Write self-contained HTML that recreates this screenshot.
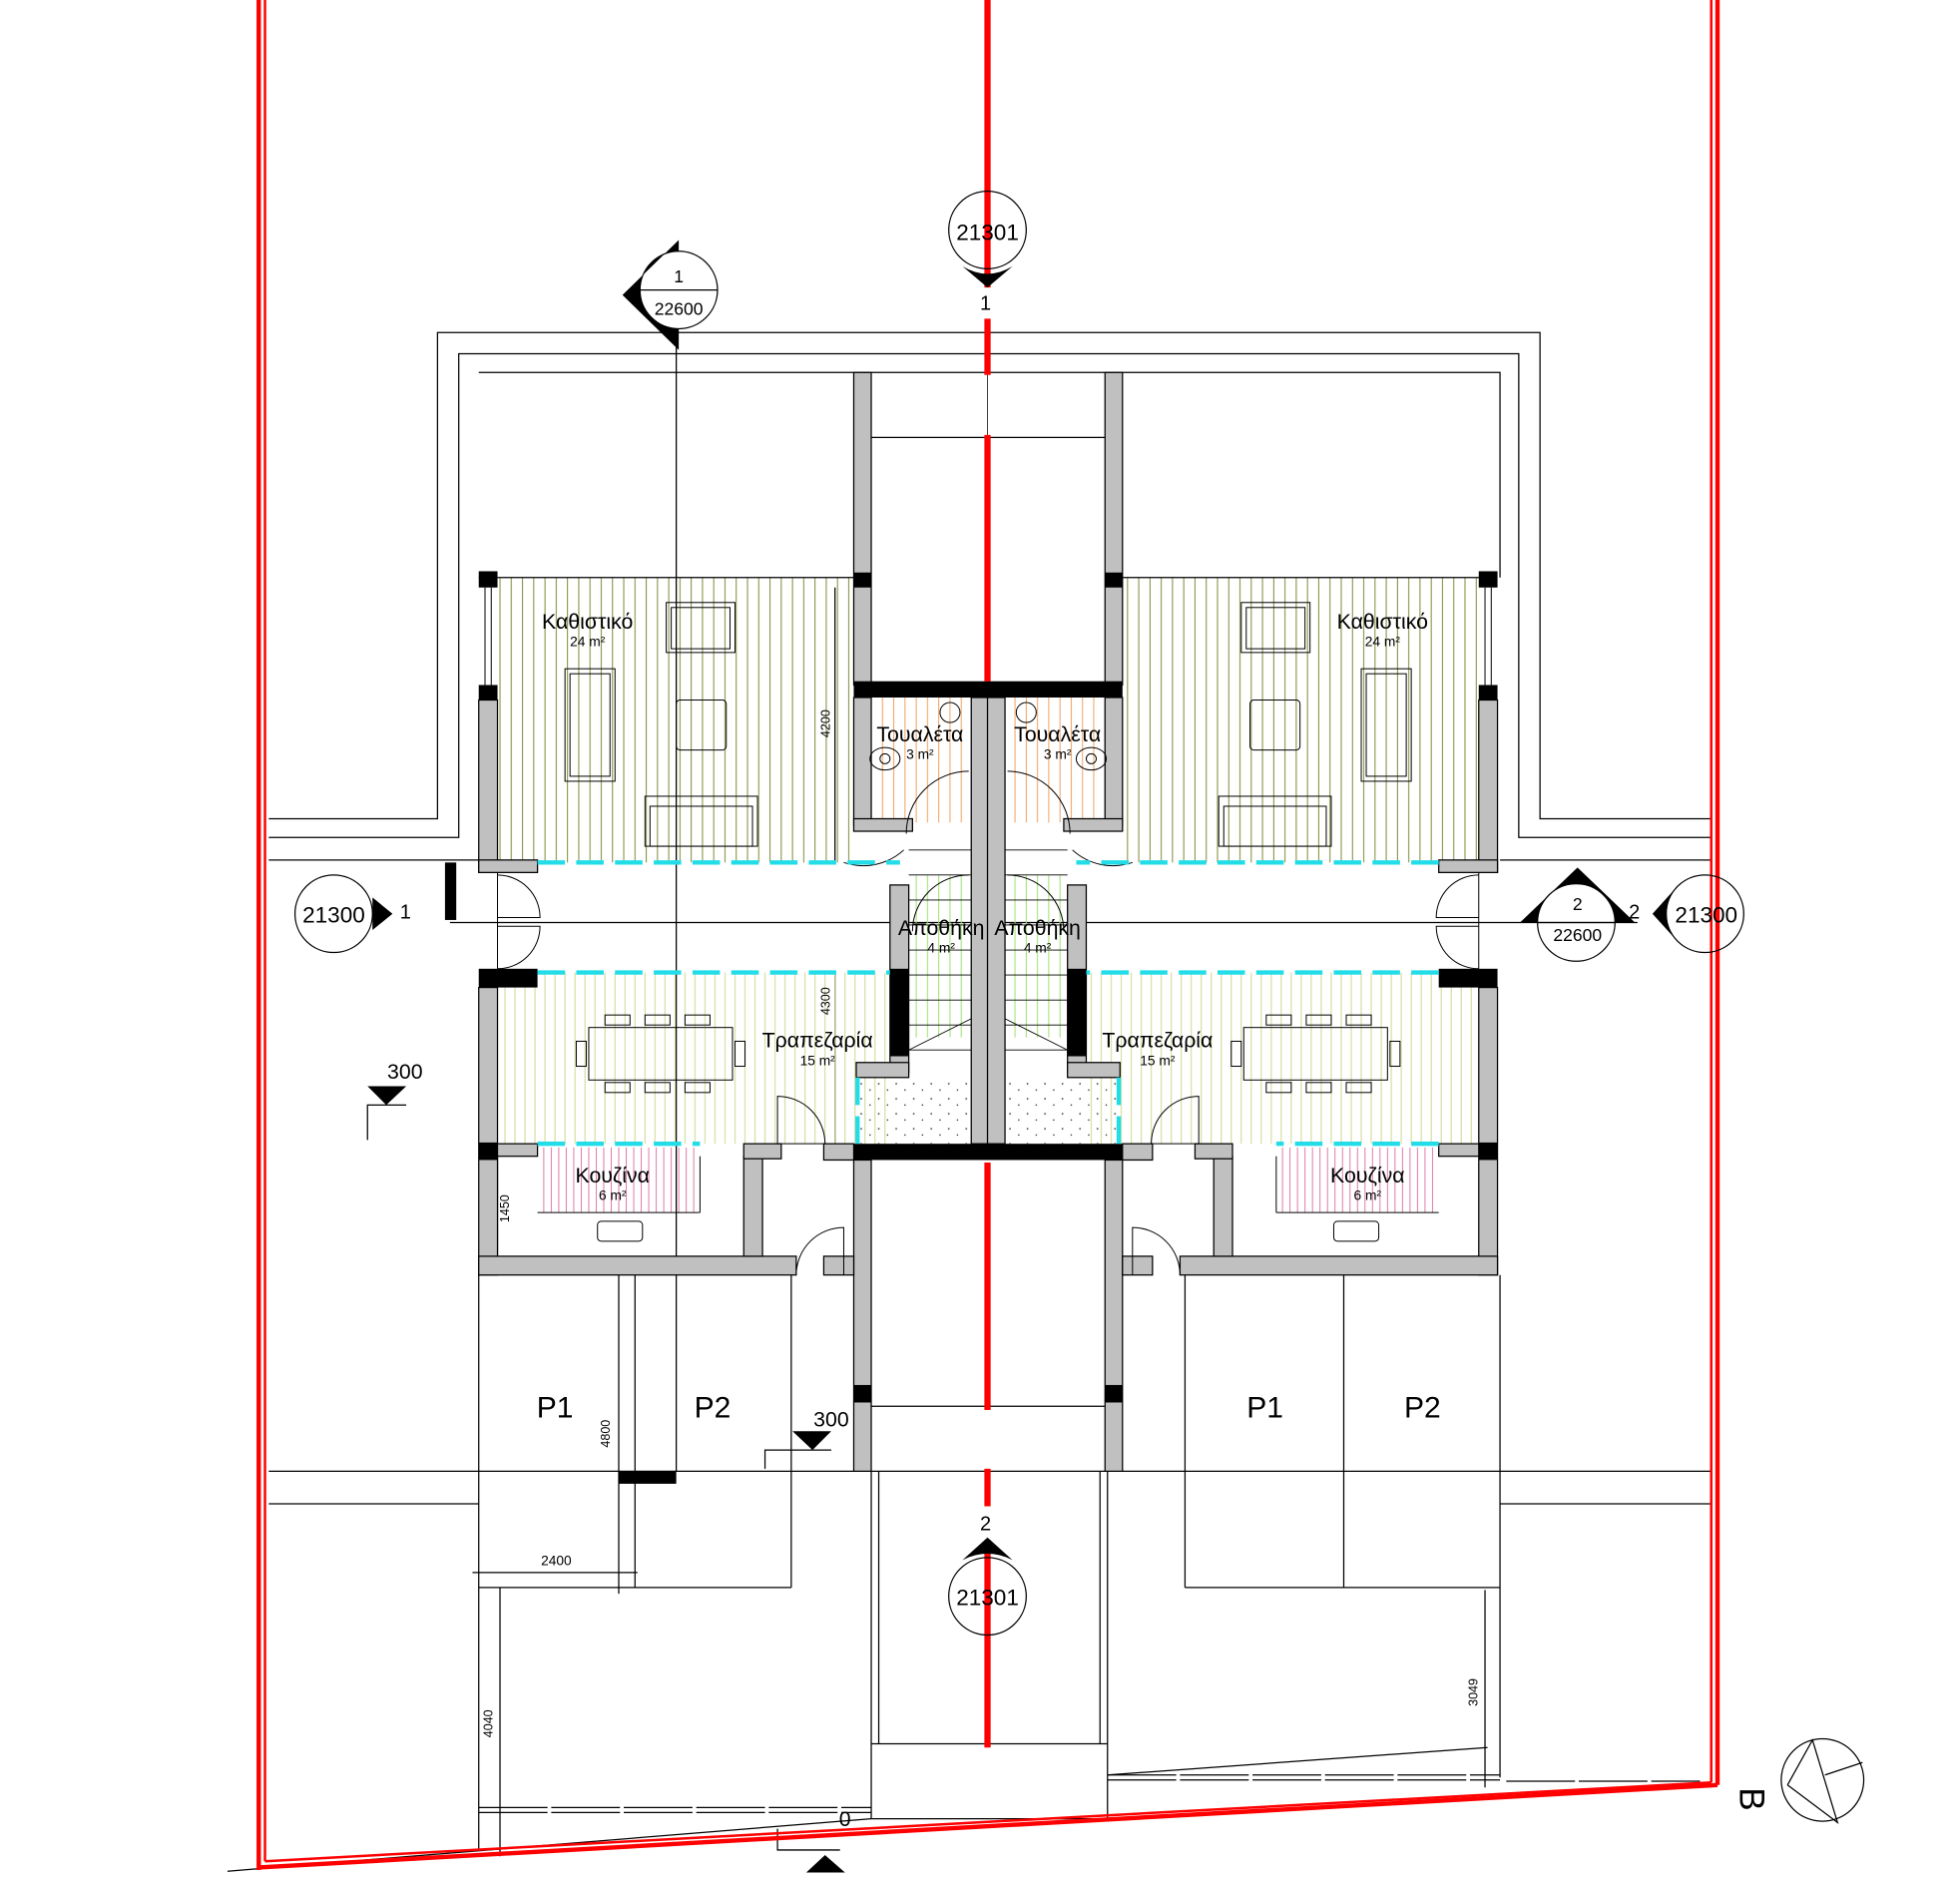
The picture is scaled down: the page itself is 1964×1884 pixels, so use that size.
<!DOCTYPE html>
<html><head><meta charset="utf-8"><style>
html,body{margin:0;padding:0;background:#fff;}
svg{display:block;}
text{font-family:"Liberation Sans",sans-serif;fill:#000;}
</style></head><body>
<svg width="1964" height="1884" viewBox="0 0 1568 1504" preserveAspectRatio="none" xmlns="http://www.w3.org/2000/svg">
<defs>
<pattern id="liv" width="9" height="10" patternUnits="userSpaceOnUse"><line x1="4" y1="0" x2="4" y2="10" stroke="#7d8a35" stroke-width="0.8"/></pattern>
<pattern id="din" width="8" height="10" patternUnits="userSpaceOnUse"><line x1="4" y1="0" x2="4" y2="10" stroke="#d4dc98" stroke-width="0.9"/></pattern>
<pattern id="kit" width="6" height="10" patternUnits="userSpaceOnUse"><line x1="3" y1="0" x2="3" y2="10" stroke="#e07aa8" stroke-width="0.8"/></pattern>
<pattern id="wc" width="9" height="10" patternUnits="userSpaceOnUse"><line x1="4" y1="0" x2="4" y2="10" stroke="#f0a060" stroke-width="0.8"/></pattern>
<pattern id="st" width="9" height="10" patternUnits="userSpaceOnUse"><line x1="4" y1="0" x2="4" y2="10" stroke="#9ee070" stroke-width="0.8"/></pattern>
<pattern id="dot" width="14" height="12" patternUnits="userSpaceOnUse"><circle cx="3" cy="3" r="0.7" fill="#333"/><circle cx="10" cy="8" r="0.6" fill="#333"/></pattern>
</defs>
<rect width="1568" height="1504" fill="#fff"/>

<g fill="none" stroke="#000" stroke-width="1">
<polyline points="215,655 350,655 350,266 1232,266 1232,655 1368,655"/>
<polyline points="215,670 367,670 367,283 1215,283 1215,670 1368,670"/>
<polyline points="383,298 1200,298 1200,462"/>
<line x1="215" y1="688" x2="383" y2="688"/><line x1="1200" y1="688" x2="1368" y2="688"/>
<line x1="215" y1="1177" x2="1368" y2="1177"/>
<line x1="215" y1="1203" x2="383" y2="1203"/><line x1="1200" y1="1203" x2="1368" y2="1203"/>
<line x1="697" y1="350" x2="886" y2="350"/>
<line x1="697" y1="1125" x2="886" y2="1125"/>
<line x1="541" y1="266" x2="541" y2="1177"/>
<line x1="360" y1="738" x2="1310" y2="738"/>
<line x1="383" y1="1020" x2="383" y2="1480"/>
<line x1="508" y1="1020" x2="508" y2="1270"/><line x1="633" y1="1020" x2="633" y2="1270"/>
<line x1="383" y1="1270" x2="633" y2="1270"/>
<line x1="948" y1="1020" x2="948" y2="1270"/><line x1="1075" y1="1020" x2="1075" y2="1270"/>
<line x1="948" y1="1270" x2="1200" y2="1270"/><line x1="1200" y1="1020" x2="1200" y2="1422"/>
<line x1="697" y1="1177" x2="697" y2="1455"/><line x1="886" y1="1177" x2="886" y2="1455"/>
<line x1="703" y1="1177" x2="703" y2="1395"/><line x1="880" y1="1177" x2="880" y2="1395"/>
<line x1="697" y1="1395" x2="886" y2="1395"/>
<line x1="697" y1="1455" x2="886" y2="1455"/>
<line x1="495" y1="1020" x2="495" y2="1275"/><line x1="378" y1="1258" x2="510" y2="1258"/>
<line x1="400" y1="1270" x2="400" y2="1485"/>
<line x1="1188" y1="1272" x2="1188" y2="1430"/>
<line x1="398" y1="925" x2="398" y2="1005"/>
<line x1="668" y1="470" x2="668" y2="690"/>
<line x1="668" y1="778" x2="668" y2="915"/>
<polyline points="612,1175 612,1160 665,1160"/>
<polyline points="294,912 294,884 325,884"/>
<polyline points="622,1463 622,1480 672,1480"/>
<line x1="182" y1="1497" x2="697" y2="1455"/>
<line x1="886" y1="1420" x2="1190" y2="1398"/>
</g>
<g fill="none" stroke="#000" stroke-width="1" stroke-dasharray="55,3">
<line x1="383" y1="1446" x2="697" y2="1446"/><line x1="383" y1="1450" x2="697" y2="1450"/>
<line x1="886" y1="1420" x2="1200" y2="1420"/><line x1="886" y1="1424" x2="1200" y2="1424"/>
<line x1="1205" y1="1425" x2="1360" y2="1425"/>
</g>
<rect x="495" y="1177" width="46" height="10" fill="#000"/>
<rect x="356" y="690" width="9" height="46" fill="#000"/>

<g id="unit">
<rect x="398" y="462" width="285" height="228" fill="url(#liv)"/>
<line x1="383" y1="462" x2="683" y2="462" stroke="#000"/>
<rect x="398" y="778" width="317" height="137" fill="url(#din)"/>
<rect x="430" y="918" width="130" height="52" fill="url(#kit)"/>
<rect x="697" y="558" width="80" height="100" fill="url(#wc)"/>
<rect x="727" y="700" width="50" height="130" fill="url(#st)"/>
<rect x="685" y="862" width="92" height="53" fill="url(#dot)"/>
<g stroke="#000" stroke-width="0.7" fill="none">
<line x1="727" y1="720" x2="777" y2="720"/><line x1="727" y1="740" x2="777" y2="740"/><line x1="727" y1="760" x2="777" y2="760"/><line x1="727" y1="780" x2="777" y2="780"/><line x1="727" y1="800" x2="777" y2="800"/><line x1="727" y1="820" x2="777" y2="820"/><line x1="727" y1="840" x2="777" y2="840"/>
<line x1="727" y1="680" x2="777" y2="680"/><line x1="727" y1="700" x2="777" y2="700"/>
<polyline points="727,840 777,815"/>
</g>
<g fill="#c0c0c0" stroke="#000" stroke-width="1">
<rect x="683" y="298" width="14" height="250"/>
<rect x="383" y="560" width="15" height="138"/>
<rect x="383" y="688" width="47" height="10"/>
<rect x="383" y="790" width="15" height="230"/>
<rect x="383" y="1005" width="254" height="15"/>
<rect x="595" y="925" width="15" height="80"/>
<rect x="595" y="915" width="30" height="12"/>
<rect x="398" y="915" width="32" height="10"/>
<rect x="659" y="915" width="24" height="13"/>
<rect x="683" y="928" width="14" height="249"/>
<rect x="683" y="558" width="14" height="102"/>
<rect x="683" y="655" width="47" height="10"/>
<rect x="712" y="708" width="15" height="150"/>
<rect x="685" y="850" width="42" height="12"/>
<rect x="777" y="558" width="14" height="357"/>
<rect x="659" y="1005" width="24" height="15"/>
</g>
<g fill="#000">
<rect x="683" y="458" width="14" height="12"/>
<rect x="383" y="457" width="15" height="13"/>
<rect x="383" y="548" width="15" height="12"/>
<rect x="683" y="545" width="108" height="13"/>
<rect x="383" y="775" width="47" height="15"/>
<rect x="712" y="775" width="15" height="70"/>
<rect x="383" y="914" width="15" height="14"/>
<rect x="683" y="915" width="108" height="13"/>
<rect x="683" y="1108" width="14" height="14"/>
</g>
<g stroke="#000" stroke-width="0.8" fill="none">
<line x1="388" y1="470" x2="388" y2="548"/><line x1="393" y1="470" x2="393" y2="548"/>
<line x1="398" y1="698" x2="398" y2="775"/>
<path d="M398,700 A34,34 0 0 1 432,734 L398,734"/>
<path d="M398,775 A34,34 0 0 0 432,741 L398,741"/>
<path d="M622,877 A38,38 0 0 1 660,915 L622,915 Z"/>
<path d="M637,1020 A38,38 0 0 1 675,982 L675,1020"/>
<path d="M775,617 A50,50 0 0 0 725,667"/>
<path d="M675,690 A48,48 0 0 0 723,680"/>
<path d="M775,700 A45,45 0 0 0 730,745"/>
<rect x="452" y="535" width="40" height="90"/><rect x="456" y="539" width="32" height="82"/>
<rect x="533" y="482" width="55" height="40"/><rect x="537" y="486" width="47" height="33"/>
<rect x="541" y="560" width="40" height="40" rx="3"/>
<rect x="516" y="637" width="90" height="40"/><rect x="520" y="645" width="82" height="32"/>
<rect x="471" y="822" width="115" height="42"/>
<rect x="484" y="812" width="20" height="8"/><rect x="516" y="812" width="20" height="8"/><rect x="548" y="812" width="20" height="8"/>
<rect x="484" y="866" width="20" height="8"/><rect x="516" y="866" width="20" height="8"/><rect x="548" y="866" width="20" height="8"/>
<rect x="461" y="833" width="8" height="20"/><rect x="588" y="833" width="8" height="20"/>
<rect x="478" y="977" width="36" height="16" rx="3"/>
<line x1="430" y1="970" x2="560" y2="970"/>
<line x1="560" y1="925" x2="560" y2="970"/>
<ellipse cx="708" cy="607" rx="12" ry="9"/><circle cx="708" cy="607" r="4"/>
<circle cx="760" cy="570" r="8"/>
</g>
<g stroke="#22dde8" stroke-width="3.5" stroke-dasharray="22,9" fill="none">
<line x1="430" y1="690" x2="720" y2="690"/>
<line x1="430" y1="778" x2="712" y2="778"/>
<line x1="430" y1="915" x2="560" y2="915"/>
<line x1="686" y1="862" x2="686" y2="915"/>
</g>
</g>
<use href="#unit" transform="translate(1581,0) scale(-1,1)"/>

<g fill="none" stroke="#ff0000" stroke-width="3.5">
<line x1="207" y1="0" x2="207" y2="1496"/>
<line x1="1374" y1="0" x2="1374" y2="1428"/>
<line x1="207" y1="1494" x2="1374" y2="1428"/>
</g>
<g fill="none" stroke="#ff0000" stroke-width="2">
<line x1="212" y1="0" x2="212" y2="1489"/>
<line x1="1369" y1="0" x2="1369" y2="1426"/>
<line x1="212" y1="1489" x2="1369" y2="1426"/>
</g>
<g stroke="#ff0000" stroke-width="5" fill="none">
<line x1="790" y1="0" x2="790" y2="230"/>
<line x1="790" y1="255" x2="790" y2="300"/>
<line x1="790" y1="348" x2="790" y2="545"/>
<line x1="790" y1="930" x2="790" y2="1128"/>
<line x1="790" y1="1175" x2="790" y2="1205"/>
<line x1="790" y1="1232" x2="790" y2="1398"/>
</g>
<line x1="790" y1="300" x2="790" y2="348" stroke="#000" stroke-width="0.6"/>
<line x1="790" y1="558" x2="790" y2="915" stroke="#000" stroke-width="0.8"/>

<g fill="none" stroke="#000" stroke-width="1">
<circle cx="790" cy="184" r="31"/><circle cx="790" cy="1277" r="31"/>
<circle cx="543" cy="232" r="31"/><line x1="512" y1="232" x2="574" y2="232"/>
<circle cx="267" cy="731" r="31"/>
<circle cx="1261" cy="738" r="31"/><line x1="1230" y1="738" x2="1292" y2="738"/>
<circle cx="1364" cy="731" r="31"/>
<circle cx="1458" cy="1424" r="33"/>
<polyline points="1430,1428 1450,1392 1470,1458 1430,1428"/><line x1="1460" y1="1420" x2="1490" y2="1410"/>
</g>
<g fill="#000">
<path d="M770,213 L790,230 L810,213 Q790,225 770,213 Z"/>
<path d="M770,1248 L790,1230 L810,1248 Q790,1238 770,1248 Z"/>
<path d="M543,192 L498,236 L543,280 L543,263 A31,31 0 0 1 512,232 A31,31 0 0 1 543,201 Z"/>
<path d="M298,718 L314,731 L298,744 Z"/>
<path d="M1216,738 L1262,694 L1308,738 L1292,738 A31,31 0 0 0 1230,738 Z"/>
<path d="M1341,710 L1322,731 L1341,752 A31,31 0 0 1 1341,710 Z"/>
<path d="M294,869 L325,869 L309,884 Z"/>
<path d="M634,1145 L665,1145 L650,1160 Z"/>
<path d="M645,1498 L676,1498 L660,1484 Z"/>
</g>

<g font-size="18">
<text x="765" y="192">21301</text>
<text x="765" y="1284">21301</text>
<text x="242" y="738">21300</text>
<text x="1340" y="738">21300</text>
<text x="784" y="248" font-size="16">1</text>
<text x="784" y="1224" font-size="16">2</text>
<text x="320" y="735" font-size="16">1</text>
<text x="1303" y="735" font-size="16">2</text>
</g>
<g font-size="14" text-anchor="middle">
<text x="543" y="226">1</text><text x="543" y="252">22600</text>
<text x="1262" y="728">2</text><text x="1262" y="753">22600</text>
</g>
<g text-anchor="middle">
<text x="470" y="503" font-size="17">Καθιστικό</text><text x="470" y="517" font-size="11">24 m²</text>
<text x="1106" y="503" font-size="17">Καθιστικό</text><text x="1106" y="517" font-size="11">24 m²</text>
<text x="736" y="593" font-size="17">Τουαλέτα</text><text x="736" y="607" font-size="11">3 m²</text>
<text x="846" y="593" font-size="17">Τουαλέτα</text><text x="846" y="607" font-size="11">3 m²</text>
<text x="753" y="748" font-size="17">Αποθήκη</text><text x="753" y="762" font-size="11">4 m²</text>
<text x="830" y="748" font-size="17">Αποθήκη</text><text x="830" y="762" font-size="11">4 m²</text>
<text x="654" y="838" font-size="17">Τραπεζαρία</text><text x="654" y="852" font-size="11">15 m²</text>
<text x="926" y="838" font-size="17">Τραπεζαρία</text><text x="926" y="852" font-size="11">15 m²</text>
<text x="490" y="946" font-size="17">Κουζίνα</text><text x="490" y="960" font-size="11">6 m²</text>
<text x="1094" y="946" font-size="17">Κουζίνα</text><text x="1094" y="960" font-size="11">6 m²</text>
<text x="444" y="1134" font-size="24">P1</text><text x="570" y="1134" font-size="24">P2</text>
<text x="1012" y="1134" font-size="24">P1</text><text x="1138" y="1134" font-size="24">P2</text>
<text x="324" y="863" font-size="17">300</text>
<text x="665" y="1141" font-size="17">300</text>
<text x="676" y="1461" font-size="17">0</text>
<text x="445" y="1252" font-size="11">2400</text>
</g>
<g font-size="10">
<text transform="translate(664,590) rotate(-90)">4200</text>
<text transform="translate(664,812) rotate(-90)">4300</text>
<text transform="translate(407,978) rotate(-90)">1450</text>
<text transform="translate(488,1158) rotate(-90)">4800</text>
<text transform="translate(394,1390) rotate(-90)">4040</text>
<text transform="translate(1182,1365) rotate(-90)">3049</text>
</g>
<text transform="translate(1392,1430) rotate(90)" font-size="28">B</text>
</svg>
</body></html>
